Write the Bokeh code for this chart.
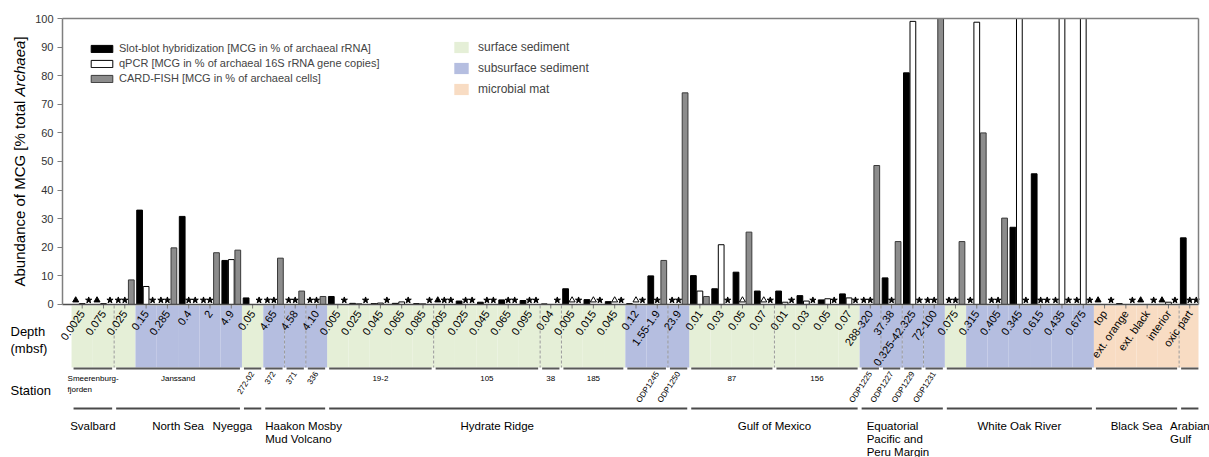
import math
from bokeh.plotting import figure
from bokeh.models import (ColumnDataSource, Range1d, LinearAxis, FixedTicker,
                          Label, Legend, LegendItem)
from bokeh.core.properties import value
from bokeh.embed import file_html
from bokeh.resources import INLINE

# ---------------- data ----------------
depths = ["0.0025", "0.075", "0.025", "0.15", "0.285", "0.4", "2", "4.9", "0.05",
          "4.65", "4.58", "4.10",
          "0.005", "0.025", "0.045", "0.065", "0.085",
          "0.005", "0.025", "0.045", "0.065", "0.095", "0.04",
          "0.005", "0.015", "0.045", "0.12", "1.55-1.9", "23.9",
          "0.01", "0.03", "0.05", "0.07", "0.01", "0.03", "0.05", "0.07",
          "288-320", "37.38", "0.325-42.325", "72-100",
          "0.075", "0.315", "0.405", "0.345", "0.615", "0.435", "0.675",
          "top", "ext. orange", "ext. black", "interior", "oxic part"]

# S = surface sediment, D = subsurface sediment, M = microbial mat
setting = list("SSSDDDDDSDDD" + "S" * 14 + "DDD" + "S" * 8 + "DDDD" + "S" + "D" * 6 + "M" * 5)

# numbers = % values ; "*" = star symbol ; "^" = filled triangle ; "o" = open triangle ; None = nothing
slot_blot = ["^", "^", "*", 33.0, "*", 30.8, "*", 15.4, 2.3, "*", "*", "*",
             2.8, 0.4, 0.3, 0.4, 0.3, "^", 1.2, 0.8, 1.6, 1.4, 0.2, 5.5, 1.7, 1.0, 0.3, 10.0, "*",
             10.1, 5.5, 11.3, 4.7, 4.7, 3.1, 1.6, 3.7,
             "*", 9.3, 81.0, "*",
             "*", "*", "*", 27.0, 45.7, "*", "*",
             "^", 0.3, "^", "^", 23.3]
qpcr = [0.3, 0.3, "*", 6.3, "*", "*", "*", 15.7, None, "*", "*", "*",
        None, 0.2, 0.5, 0.9, 0.2, "*", "*", "*", "*", "*", None, "o", "o", "o", "o", "*", "*",
        4.7, 20.9, "o", "o", 0.8, 1.2, 2.0, 2.3,
        "*", "*", 99.0, "*",
        "*", 98.7, "*", 100.0, "*", 100.0, 100.0,
        None, None, None, 0.8, "*"]
card_fish = ["*", "*", 8.6, "*", 19.8, "*", 18.1, 19.0, "*", 16.2, 4.7, 2.8,
             "*", "*", "*", "*", "*", "*", "*", "*", "*", "*", "*", "*", "*", "*", "*", 15.4, 74.0,
             2.8, "*", 25.3, "*", "*", "*", "*", "*",
             48.6, 22.0, "*", 100.0,
             22.0, 60.0, 30.2, "*", "*", "*", "*",
             "*", "*", "*", "*", "*"]

series_names = ["Slot-blot hybridization [MCG in % of archaeal rRNA]",
                "qPCR [MCG in % of archaeal 16S rRNA gene copies]",
                "CARD-FISH [MCG in % of archaeal cells]"]

stations = ["Smeerenburg-\nfjorden", "Janssand", "272-02", "372", "371", "336",
            "19-2", "105", "38", "185", "ODP1245", "ODP1250", "87", "156",
            "ODP1225", "ODP1227", "ODP1229", "ODP1231", "", "", ""]
station_sizes = [2, 6, 1, 1, 1, 1, 5, 5, 1, 3, 2, 1, 4, 4, 1, 1, 1, 1, 7, 4, 1]
rotated_stations = {"272-02", "372", "371", "336", "ODP1245", "ODP1250",
                    "ODP1225", "ODP1227", "ODP1229", "ODP1231"}

regions = ["Svalbard", "North Sea", "Nyegga", "Haakon Mosby\nMud Volcano", "Hydrate Ridge",
           "Gulf of Mexico", "Equatorial\nPacific and\nPeru Margin", "White Oak River",
           "Black Sea", "Arabian\nGulf"]
region_sizes = [2, 6, 1, 3, 17, 8, 4, 7, 4, 1]

setting_names = {"S": "surface sediment", "D": "subsurface sediment", "M": "microbial mat"}

# ---------------- layout / style ----------------
W, H = 1209, 457
ML, MR, MT = 62, 11, 18          # where the 0-100 box sits inside the canvas
X0, X1 = 0.075, 53.41            # sample-axis extent of the box
Y0, Y1 = -53.5, 100.0
kx = (W - ML - MR) / (X1 - X0)
ky = (H - MT) / (Y1 - Y0)
XL, XR = X0 - ML / kx, X1 + MR / kx
YT = Y1 + MT / ky


def xd(px):
    return XL + px / kx


def yd(py):
    return YT - py / ky


FONT = "Liberation Sans"
AXC = "#7f7f7f"
band_colors = {"S": "#e5efd7", "D": "#b5bee0", "M": "#f8dcc3"}
bar_fill = ["black", "white", "#8c8c8c"]
bar_line = ["black", "black", "#3a3a3a"]
slot_off = [-0.305, 0.0, 0.305]
bar_w = 0.27
gap = 2.0 / kx

p = figure(width=W, height=H, x_range=Range1d(XL, XR), y_range=Range1d(Y0, YT),
           min_border=0, x_axis_location=None, y_axis_location=None,
           output_backend="svg", toolbar_location=None, outline_line_color=None)
p.grid.visible = False

n_samples = len(depths)
xs = list(range(1, n_samples + 1))


def groups(sizes):
    out, s = [], 1
    for k in sizes:
        out.append((s, s + k - 1))
        s += k
    return out


# background bands by setting type
band_renderers = {}
for t in ["S", "D", "M"]:
    sel = [x for x, s in zip(xs, setting) if s == t]
    src = ColumnDataSource(dict(left=[max(x - 0.5, X0) for x in sel],
                                right=[min(x + 0.5, X1) for x in sel],
                                top=[yd(305)] * len(sel), bottom=[yd(367)] * len(sel)))
    band_renderers[t] = p.quad(left="left", right="right", top="top", bottom="bottom", source=src,
                               fill_color=band_colors[t], line_color=None)

# dashed separators between stations sharing a band type
st_groups = groups(station_sizes)
sep_x = [b + 0.5 for (a, b) in st_groups[:-1] if setting[b - 1] == setting[b]]
p.segment(x0=sep_x, y0=[yd(305)] * len(sep_x), x1=sep_x, y1=[yd(367)] * len(sep_x),
          line_color="#9a9a9a", line_width=1, line_dash="3 2")

# small ticks below baseline
p.segment(x0=xs, y0=[0] * n_samples, x1=xs, y1=[yd(308)] * n_samples,
          line_color="#7a7a7a", line_width=1)

# bars and symbols
bar_renderers = []
mark_y = 4.3 / ky
for i, ser in enumerate([slot_blot, qpcr, card_fish]):
    bx = [x + slot_off[i] for x, v in zip(xs, ser) if isinstance(v, float)]
    bt = [min(v, Y1) for v in ser if isinstance(v, float)]
    r = p.vbar(x=bx, top=bt, bottom=0, width=bar_w, fill_color=bar_fill[i],
               line_color=bar_line[i], line_width=1)
    bar_renderers.append(r)
    sx = [x + slot_off[i] for x, v in zip(xs, ser) if v == "*"]
    tx = [x + slot_off[i] for x, v in zip(xs, ser) if v == "^"]
    ox = [x + slot_off[i] for x, v in zip(xs, ser) if v == "o"]
    if sx:
        p.scatter(x=sx, y=[mark_y] * len(sx), marker="star", size=6.5,
                  fill_color="black", line_color="black")
    if tx:
        p.scatter(x=tx, y=[mark_y] * len(tx), marker="triangle", size=6,
                  fill_color="black", line_color="black")
    if ox:
        p.scatter(x=ox, y=[mark_y] * len(ox), marker="triangle", size=6,
                  fill_color="white", line_color="black")

# depth labels
p.text(x=xs, y=[yd(311)] * n_samples, text=depths, angle=math.radians(55),
       text_align="right", text_baseline="middle", text_font=value(FONT),
       text_font_size="11px", text_color="black")

# station lines and labels
p.segment(x0=[max(a - 0.5 + gap, X0) for a, b in st_groups], y0=[yd(368)] * len(st_groups),
          x1=[min(b + 0.5 - gap, X1) for a, b in st_groups], y1=[yd(368)] * len(st_groups),
          line_color="#595959", line_width=2)
hx, hy, ht, ha = [], [], [], []
rx, ry, rt = [], [], []
for name, (a, b) in zip(stations, st_groups):
    if not name:
        continue
    if name in rotated_stations:
        rx.append(b); ry.append(yd(372)); rt.append(name)
    else:
        lines = name.split("\n")
        for j, ln in enumerate(lines):
            if len(lines) > 1:
                hx.append(a - 0.5 - 4 / kx); ha.append("left")
            else:
                hx.append((a + b) / 2); ha.append("center")
            hy.append(yd(378 + 10.5 * j)); ht.append(ln)
p.text(x=hx, y=hy, text=ht, text_align=ha, text_baseline="middle",
       text_font=value(FONT), text_font_size="8px", text_color="black")
p.text(x=rx, y=ry, text=rt, angle=math.radians(57), text_align="right",
       text_baseline="middle", text_font=value(FONT), text_font_size="8px",
       text_color="black")

# region lines and labels
rg_groups = groups(region_sizes)
p.segment(x0=[max(a - 0.5 + gap, X0) for a, b in rg_groups], y0=[yd(408)] * len(rg_groups),
          x1=[min(b + 0.5 - gap, X1) for a, b in rg_groups], y1=[yd(408)] * len(rg_groups),
          line_color="#4a4a4a", line_width=2)
region_align = ["center", "center", "right", "left", "center", "center", "left",
                "center", "center", "left"]
region_nudge = [0, 0, -9, 0, -11, 0, 5, 0, 0, -11]
for name, (a, b), al, nd in zip(regions, rg_groups, region_align, region_nudge):
    if al == "center":
        ax = (a + b) / 2
    elif al == "right":
        ax = b + 0.5 - gap
    else:
        ax = a - 0.5 + gap
    ax += nd / kx
    for j, ln in enumerate(name.split("\n")):
        p.add_layout(Label(x=ax, y=yd(425 + 13 * j), text=ln, text_align=al,
                           text_baseline="middle", text_font=FONT,
                           text_font_size="11.5px", text_color="black"))

# left texts
for txt, py in [("Depth", 331), ("(mbsf)", 348), ("Station", 390)]:
    p.add_layout(Label(x=xd(10), y=yd(py), text=txt, text_align="left",
                       text_baseline="middle", text_font=FONT, text_font_size="13px",
                       text_color="black"))

# axes (box lines) placed at fixed data locations
yax = LinearAxis(fixed_location=X0, bounds=(0, 100),
                 ticker=FixedTicker(ticks=list(range(0, 101, 10))),
                 axis_line_color=AXC, axis_line_width=1.5,
                 major_tick_line_color=AXC, major_tick_in=0, major_tick_out=5,
                 minor_tick_line_color=None, major_label_standoff=4,
                 major_label_text_font=FONT, major_label_text_font_size="11px",
                 major_label_text_color="#333333")
p.add_layout(yax, "left")


def plain_axis(loc, bounds, color, width):
    return LinearAxis(fixed_location=loc, bounds=bounds, ticker=FixedTicker(ticks=[]),
                      axis_line_color=color, axis_line_width=width,
                      major_tick_line_color=None, minor_tick_line_color=None,
                      major_label_text_font_size="0px")


p.add_layout(plain_axis(X1, (0, 100), AXC, 1.5), "right")
p.add_layout(plain_axis(Y1, (X0, X1), AXC, 1.5), "above")
p.add_layout(plain_axis(0, (X0, X1), "#4d4d4d", 1.5), "below")

# y axis title (with italic Archaea)
arial = {"A": 667, "b": 556, "u": 556, "n": 556, "d": 556, "a": 556, "c": 500, "e": 556,
         " ": 278, "o": 556, "f": 278, "M": 833, "C": 722, "G": 778, "[": 278, "%": 889,
         "t": 278, "l": 222, "r": 333, "h": 556, "]": 278}
fs = 15
parts = [("Abundance of MCG [% total ", "normal"), ("Archaea", "italic"), ("]", "normal")]
widths = [sum(arial[c] for c in s) * fs / 1000 for s, _ in parts]
start_px = 161 + sum(widths) / 2
for (s, style), w in zip(parts, widths):
    p.add_layout(Label(x=xd(19), y=yd(start_px), text=s, angle=math.pi / 2,
                       text_align="left", text_baseline="middle", text_font=FONT,
                       text_font_size=f"{fs}px", text_font_style=style, text_color="black"))
    start_px -= w

# legends
leg1 = Legend(items=[LegendItem(label=value(nm), renderers=[r])
                     for nm, r in zip(series_names, bar_renderers)],
              location=(88, 372), glyph_width=27, glyph_height=9, label_height=14,
              spacing=1, padding=0, margin=0, label_standoff=4,
              label_text_font=FONT, label_text_font_size="11px",
              border_line_color=None, background_fill_alpha=0)
leg2 = Legend(items=[LegendItem(label=value(setting_names[t]), renderers=[band_renderers[t]])
                     for t in ["S", "D", "M"]],
              location=(452, 361), glyph_width=18, glyph_height=14, label_height=14,
              spacing=7, padding=0, margin=0, label_standoff=8,
              label_text_font=FONT, label_text_font_size="12px",
              border_line_color=None, background_fill_alpha=0)
p.add_layout(leg1)
p.add_layout(leg2)

open("out.html", "w").write(file_html(p, INLINE))
